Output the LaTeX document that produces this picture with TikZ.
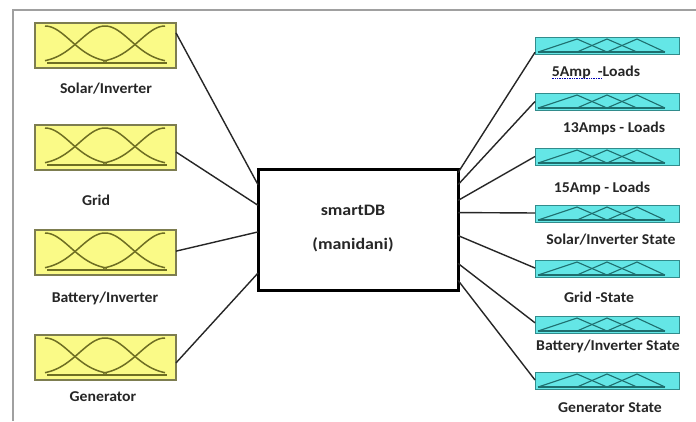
\documentclass[tikz,border=0pt]{standalone}
\usepackage{fontspec}
\setmainfont{Carlito}
\newfontfamily\lblfont[FakeStretch=1.05]{Carlito}
\newfontfamily\ctrfont[FakeStretch=1.12]{Carlito}
\usetikzlibrary{calc}
\definecolor{yfill}{RGB}{250,250,135}
\definecolor{ydraw}{RGB}{125,125,80}
\definecolor{ycurve}{RGB}{110,110,35}
\definecolor{cfill}{RGB}{100,230,230}
\definecolor{cdraw}{RGB}{50,140,140}
\definecolor{ccurve}{RGB}{30,110,110}
\definecolor{framegray}{RGB}{160,160,160}
\tikzset{
  inbox/.style={draw=ydraw, fill=yfill, line width=1.3pt, minimum width=141pt, minimum height=45pt, inner sep=0pt, outer sep=0pt},
  outbox/.style={draw=cdraw, fill=cfill, line width=1pt, minimum width=144pt, minimum height=17pt, inner sep=0pt, outer sep=0pt},
  lbl/.style={font=\lblfont\fontsize{15}{17}\selectfont\bfseries, text=black!85, inner sep=0pt},
  ctr/.style={draw=black, line width=3pt, minimum width=200pt, minimum height=121pt, inner sep=0pt, outer sep=0pt},
  ctrtxt/.style={font=\ctrfont\fontsize{16}{18}\selectfont\bfseries, text=black!85, inner sep=0pt},
  wire/.style={draw=black!85, line width=1.4pt},
  gcurve/.style={draw=ycurve, line width=1.5pt},
  tcurve/.style={draw=ccurve, line width=1.1pt}
}
\newcommand{\gaussmf}[1]{%
  \begin{scope}[shift={(#1.north west)}]
    \draw[gcurve] plot[domain=10:72, samples=40, smooth] (\x, {40-37*exp(-((\x-10)^2)/1300)});
    \draw[gcurve] plot[domain=10:130, samples=60, smooth] (\x, {40-37*exp(-((\x-70)^2)/1300)});
    \draw[gcurve] plot[domain=68:130, samples=40, smooth] (\x, {40-37*exp(-((\x-130)^2)/1300)});
    \draw[gcurve, line width=2pt] (12,40) -- (132,40);
  \end{scope}}
\newcommand{\trimf}[1]{%
  \begin{scope}[shift={(#1.north west)}]
    \draw[tcurve] (3,15) -- (42,2) -- (72,15);
    \draw[tcurve] (42,15) -- (72,2) -- (102,15);
    \draw[tcurve] (72,15) -- (102,2) -- (130,15);
    \draw[tcurve, line width=1.3pt] (3,15) -- (130,15);
  \end{scope}}
\begin{document}
\begin{tikzpicture}[x=1pt,y=-1pt]
\useasboundingbox[fill=white] (0,0) rectangle (696,421);
% frame
\draw[framegray, line width=2pt] (13,421) -- (13,10) -- (696,10);

% inputs
\node[inbox] (in1) at (105.5,45.5) {};
\node[inbox] (in2) at (105.5,147.5) {};
\node[inbox] (in3) at (105.5,252.5) {};
\node[inbox] (in4) at (105.5,357.5) {};
\gaussmf{in1}\gaussmf{in2}\gaussmf{in3}\gaussmf{in4}
\node[lbl] (lin1) at (106,89) {Solar/Inverter};
\node[lbl] (lin2) at (96,200) {Grid};
\node[lbl] (lin3) at (105,298) {Battery/Inverter};
\node[lbl] (lin4) at (103,397) {Generator};

% centre
\node[ctr] (c) at (358,229.5) {};
\node[ctrtxt] (ct1) at (353,210) {smartDB};
\node[ctrtxt] (ct2) at (353,245) {(manidani)};

% outputs
\node[outbox] (o1) at (607,45.5) {};
\node[outbox] (o2) at (607,101.5) {};
\node[outbox] (o3) at (607,156.5) {};
\node[outbox] (o4) at (607,213.5) {};
\node[outbox] (o5) at (607,268.5) {};
\node[outbox] (o6) at (607,324.5) {};
\node[outbox] (o7) at (607,380.5) {};
\trimf{o1}\trimf{o2}\trimf{o3}\trimf{o4}\trimf{o5}\trimf{o6}\trimf{o7}
\node[lbl] (lo1) at (596,72) {5Amp\ \ -Loads};
\draw[blue!70!black, line width=0.7pt, densely dotted] ($(lo1.base west)+(0,2.5)$) -- ++(50,0);
\node[lbl] (lo2) at (614,128) {13Amps - Loads};
\node[lbl] (lo3) at (602,188) {15Amp - Loads};
\node[lbl] (lo4) at (611,240) {Solar/Inverter State};
\node[lbl] (lo5) at (599,297) {Grid -State};
\node[lbl] (lo6) at (608,346) {Battery/Inverter State};
\node[lbl] (lo7) at (610,408) {Generator State};

% input wires
\draw[wire] ($(in1.north east)!0.22!(in1.south east)$) -- ($(c.north west)!0.13!(c.south west)$);
\draw[wire] ($(in2.north east)!0.6!(in2.south east)$) -- ($(c.north west)!0.30!(c.south west)$);
\draw[wire] ($(in3.north east)!0.47!(in3.south east)$) -- ($(c.north west)!0.52!(c.south west)$);
\draw[wire] ($(in4.north east)!0.62!(in4.south east)$) -- ($(c.north west)!0.86!(c.south west)$);

% output wires
\draw[wire] ($(c.north east)!0.03!(c.south east)$) -- ($(o1.north west)!0.9!(o1.south west)$);
\draw[wire] ($(c.north east)!0.13!(c.south east)$) -- (o2.west);
\draw[wire] ($(c.north east)!0.26!(c.south east)$) -- (o3.west);
\draw[wire] ($(c.north east)!0.36!(c.south east)$) -- ($(o4.north west)!0.47!(o4.south west)$);
\draw[wire] ($(c.north east)!0.55!(c.south east)$) -- ($(o5.north west)!0.47!(o5.south west)$);
\draw[wire] ($(c.north east)!0.78!(c.south east)$) -- ($(o6.north west)!0.4!(o6.south west)$);
\draw[wire] ($(c.north east)!0.92!(c.south east)$) -- ($(o7.north west)!0.47!(o7.south west)$);
\end{tikzpicture}
\end{document}
